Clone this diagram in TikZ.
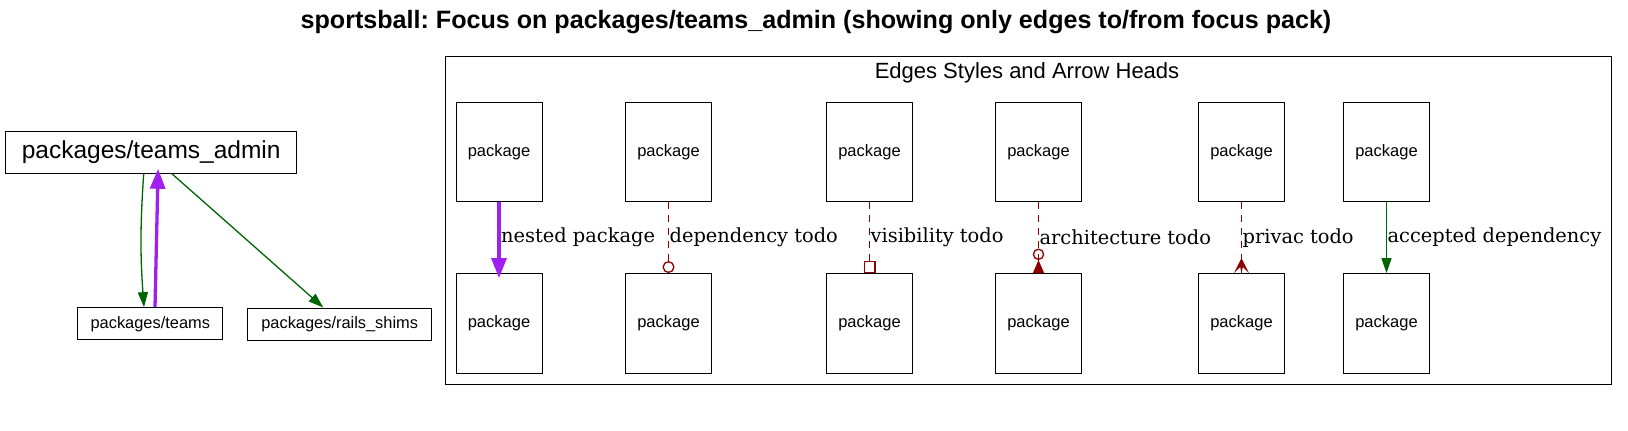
\documentclass[tikz,border=0pt]{standalone}
\usepackage{fontspec}
\setmainfont{Liberation Sans}
\newfontfamily\dserif{DejaVu Serif}
\usetikzlibrary{arrows.meta,calc}
\definecolor{dgreen}{RGB}{0,100,0}
\definecolor{dred}{RGB}{139,0,0}
\definecolor{vpurple}{RGB}{160,32,240}
\frenchspacing
\begin{document}
\begin{tikzpicture}[x=1pt,y=-1pt,
  box/.style={draw=black,line width=1pt,inner sep=0pt,fill=white},
  pkg/.style={box,minimum width=86pt,minimum height=99.5pt,font=\fontsize{16.5}{19}\selectfont},
  lbl/.style={font=\dserif\fontsize{19.4}{23}\selectfont,anchor=west,inner sep=0pt,xshift=0.5pt},
  dep/.style={draw=dgreen,line width=1.3pt,-{Triangle[length=15pt,width=10pt]}},
  nest/.style={draw=vpurple,line width=3.3pt,-{Triangle[length=20pt,width=15pt]},shorten >=-5pt},
  todo/.style={draw=dred,line width=1.3pt,dash pattern=on 7pt off 6pt},
]
\useasboundingbox[fill=white] (0,0) rectangle (1628,431);
\node[font=\bfseries\fontsize{25.1}{30}\selectfont,anchor=base,inner sep=0pt] (title) at (816,28.3) {sportsball: Focus on packages/teams\_admin (showing only edges to/from focus pack)};
% legend cluster
\node[draw,line width=1pt,minimum width=1166.7pt,minimum height=328pt,inner sep=0pt] (legend) at (1028.35,220) {};
\node[anchor=base,font=\fontsize{22}{26}\selectfont,inner sep=0pt] (legendlabel) at (1027,78.3) {Edges Styles and Arrow Heads};
% left graph
\node[box,minimum width=291pt,minimum height=41.6pt,font=\fontsize{24.5}{29}\selectfont] (ta) at (151.2,152.5) {packages/teams\_admin};
\node[box,minimum width=144.7pt,minimum height=32.3pt,font=\fontsize{16.4}{19}\selectfont] (tm) at (150.3,323.8) {packages/teams};
\node[box,minimum width=184pt,minimum height=32pt,font=\fontsize{16.4}{19}\selectfont] (rs) at (339.7,324) {packages/rails\_shims};
\draw[dep] ([xshift=-7.5pt]ta.south) to[bend right=4] ([xshift=-6.3pt]tm.north);
\draw[nest] ([xshift=4.7pt]tm.north) -- ([xshift=6.8pt]ta.south);
\draw[dep] ([xshift=20.8pt]ta.south) -- ([xshift=-16.4pt]rs.north);
% legend boxes
\foreach \i/\x in {1/499,2/668.5,3/869.5,4/1038.5,5/1241.5,6/1386.5}{
  \node[pkg] (t\i) at (\x,152.2) {package};
  \node[pkg] (b\i) at (\x,323.3) {package};
}
\draw[nest] (t1) -- node[lbl]{nested package} (b1);
\draw[todo,-{Circle[open,length=12pt,width=12pt]}] (t2) -- node[lbl]{dependency todo} (b2);
\draw[todo,-{Square[open,length=12pt,width=12pt]}] (t3) -- node[lbl]{visibility todo} (b3);
\draw[todo,-{Circle[open,length=11.5pt,width=11.5pt] Triangle[reversed,length=13pt,width=11pt]}] (t4) -- node[lbl]{architecture todo} (b4);
\draw[todo] (t5) -- node[lbl]{privac todo} (b5);
\fill[dred] ([yshift=15pt]b5.north) -- ([xshift=-7.5pt]b5.north) -- ([xshift=-1.3pt,yshift=6pt]b5.north) -- (b5.north) -- ([xshift=1.3pt,yshift=6pt]b5.north) -- ([xshift=7.5pt]b5.north) -- cycle;
\draw[dep] (t6) -- node[lbl]{accepted dependency} (b6);
\end{tikzpicture}
\end{document}
